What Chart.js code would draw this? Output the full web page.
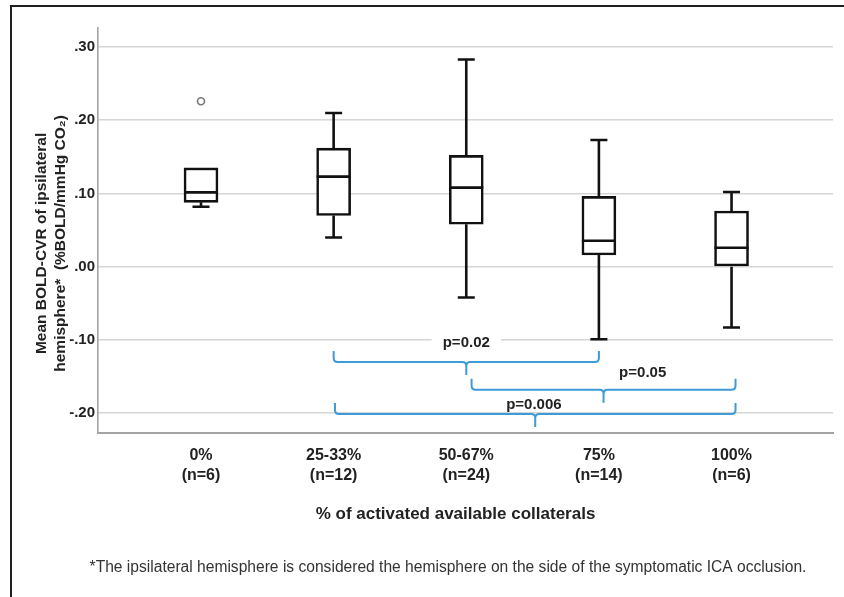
<!DOCTYPE html>
<html><head><meta charset="utf-8">
<script src="https://cdn.jsdelivr.net/npm/chart.js@4.4.1/dist/chart.umd.min.js"></script>
<style>
html,body{margin:0;padding:0;background:#fff;overflow:hidden;}
#wrap{position:relative;width:844px;height:597px;}
#frame{position:absolute;left:10px;top:5px;right:0;bottom:0;border-left:2px solid #231f20;border-top:2px solid #231f20;pointer-events:none;}
canvas{position:absolute;left:0;top:0;}
</style></head>
<body><div id="wrap"><canvas id="c" width="844" height="597"></canvas><div id="frame"></div></div>
<script>
// ---- data ----
const categories = ['0%', '25-33%', '50-67%', '75%', '100%'];
const groupSizes = ['(n=6)', '(n=12)', '(n=24)', '(n=14)', '(n=6)'];
const whiskerLow  = [0.082, 0.040, -0.042, -0.099, -0.083];
const q1          = [0.088, 0.070,  0.058,  0.016,  0.000];
const median      = [0.1015, 0.123, 0.108,  0.0355, 0.026];
const q3          = [0.135, 0.162,  0.152,  0.096,  0.076];
const whiskerHigh = [0.135, 0.210,  0.283,  0.173,  0.102];
const outlierCategory = [0];
const outlierValue    = [0.226];
const yTickValues = [-0.2, -0.1, 0, 0.1, 0.2, 0.3];
const comparisonFrom  = [1, 2.04, 1.01];
const comparisonTo    = [3, 4.03, 4.03];
const comparisonLevel = [-0.130, -0.168, -0.201];
const comparisonText  = ['p=0.02', 'p=0.05', 'p=0.006'];
const comparisonTextX = [2.0, 3.33, 2.51];
const comparisonTextY = [-0.104, -0.1455, -0.1887];
const yTitle = ['Mean BOLD-CVR of ipsilateral', 'hemisphere*  (%BOLD/mmHg CO\u2082)'];
const xTitle = '% of activated available collaterals';
const footnote = '*The ipsilateral hemisphere is considered the hemisphere on the side of the symptomatic ICA occlusion.';

const FONT = "'Liberation Sans', Arial, Helvetica, sans-serif";
const INK = '#222';
const BLUE = '#3f9bd6';

function fmtTick(v) {
  const s = Math.abs(v).toFixed(2).replace(/^0/, '');
  return (v < -1e-9 ? '-' : '') + s;
}

const boxPlugin = {
  id: 'boxWhiskers',
  afterDatasetsDraw(chart) {
    const { ctx, scales: { x, y } } = chart;
    const meta = chart.getDatasetMeta(0);
    ctx.save();
    ctx.strokeStyle = '#111';
    ctx.lineWidth = 2.6;
    categories.forEach((c, i) => {
      const px = x.getPixelForValue(i);
      const w = meta.data[i].width;
      const capHalf = 8.5;
      const yQ1 = y.getPixelForValue(q1[i]);
      const yQ3 = y.getPixelForValue(q3[i]);
      const yLo = y.getPixelForValue(whiskerLow[i]);
      const yHi = y.getPixelForValue(whiskerHigh[i]);
      const yMed = y.getPixelForValue(median[i]);
      ctx.beginPath();
      if (whiskerHigh[i] > q3[i]) {
        ctx.moveTo(px, yQ3); ctx.lineTo(px, yHi);
        ctx.moveTo(px - capHalf, yHi); ctx.lineTo(px + capHalf, yHi);
      }
      ctx.moveTo(px, yQ1); ctx.lineTo(px, yLo);
      ctx.moveTo(px - capHalf, yLo); ctx.lineTo(px + capHalf, yLo);
      ctx.moveTo(px - w / 2, yMed); ctx.lineTo(px + w / 2, yMed);
      ctx.stroke();
    });
    ctx.restore();
  }
};

const bracketPlugin = {
  id: 'brackets',
  afterDatasetsDraw(chart) {
    const { ctx, scales: { x, y } } = chart;
    ctx.save();
    ctx.strokeStyle = BLUE;
    ctx.lineWidth = 2;
    const rise = 11, drop = 13, r = 4;
    comparisonText.forEach((t, i) => {
      const x1 = x.getPixelForValue(comparisonFrom[i]);
      const x2 = x.getPixelForValue(comparisonTo[i]);
      const yh = y.getPixelForValue(comparisonLevel[i]);
      const xm = (x1 + x2) / 2;
      ctx.beginPath();
      ctx.moveTo(x1, yh - rise);
      ctx.lineTo(x1, yh - r);
      ctx.quadraticCurveTo(x1, yh, x1 + r, yh);
      ctx.lineTo(xm - r, yh);
      ctx.quadraticCurveTo(xm, yh, xm, yh + r);
      ctx.lineTo(xm, yh + drop);
      ctx.moveTo(xm, yh + r);
      ctx.quadraticCurveTo(xm, yh, xm + r, yh);
      ctx.lineTo(x2 - r, yh);
      ctx.quadraticCurveTo(x2, yh, x2, yh - r);
      ctx.lineTo(x2, yh - rise);
      ctx.stroke();
    });
    ctx.font = 'bold 15px ' + FONT;
    ctx.textAlign = 'center';
    ctx.textBaseline = 'middle';
    comparisonText.forEach((t, i) => {
      const tx = x.getPixelForValue(comparisonTextX[i]);
      const ty = y.getPixelForValue(comparisonTextY[i]);
      const tw = ctx.measureText(t).width;
      ctx.fillStyle = '#fff';
      ctx.fillRect(tx - tw / 2 - 11, ty - 7, tw + 22, 14);
      ctx.fillStyle = INK;
      ctx.fillText(t, tx, ty);
    });
    ctx.restore();
  }
};

const textPlugin = {
  id: 'extraText',
  afterDraw(chart) {
    const { ctx, chartArea } = chart;
    ctx.save();
    ctx.textAlign = 'center';
    ctx.textBaseline = 'middle';
    ctx.fillStyle = INK;
    ctx.font = 'bold 17px ' + FONT;
    ctx.fillText(xTitle, (chartArea.left + chartArea.right) / 2 - 10, 514);
    ctx.fillStyle = '#333';
    ctx.font = '15.6px ' + FONT;
    ctx.fillText(footnote, 448, 568);
    ctx.restore();
  }
};

new Chart(document.getElementById('c'), {
  type: 'bar',
  data: {
    datasets: [
      {
        type: 'bar',
        data: categories.map((c, i) => ({ x: i, y: [q1[i], q3[i]] })),
        backgroundColor: '#ffffff',
        borderColor: '#111',
        borderWidth: 2.6,
        borderSkipped: false,
        barThickness: 34,
        grouped: false
      },
      {
        type: 'scatter',
        data: outlierCategory.map((c, i) => ({ x: c, y: outlierValue[i] })),
        pointRadius: 3.5,
        pointBorderWidth: 1.6,
        pointBorderColor: '#777',
        pointBackgroundColor: '#fff'
      }
    ]
  },
  options: {
    responsive: false,
    animation: false,
    devicePixelRatio: 1,
    layout: { padding: { left: 12, right: 11, top: 28, bottom: 0 } },
    plugins: { legend: { display: false }, tooltip: { enabled: false } },
    scales: {
      x: {
        type: 'linear',
        offset: false,
        min: -0.7766,
        max: 4.765,
        afterBuildTicks: s => { s.ticks = categories.map((c, i) => ({ value: i })); },
        afterFit: s => { s.height = 164; },
        grid: { display: false, drawTicks: false },
        border: { display: true, color: '#a3a3a3', width: 2 },
        ticks: {
          callback: v => [categories[v], groupSizes[v]],
          font: { family: FONT, size: 16, weight: 'bold', lineHeight: 1.28 },
          color: INK, padding: 12, maxRotation: 0, autoSkip: false
        }
      },
      y: {
        min: -0.227,
        max: 0.326,
        afterBuildTicks: s => { s.ticks = yTickValues.map(v => ({ value: v })); },
        afterFit: s => { s.width = 86; },
        grid: { color: '#d6d6d6', lineWidth: 1.6, drawTicks: false },
        border: { display: true, color: '#a3a3a3', width: 1.6 },
        ticks: {
          callback: v => fmtTick(v),
          font: { family: FONT, size: 15, weight: 'bold' },
          color: INK, padding: 3
        },
        title: {
          display: true,
          text: yTitle.map(s => s + '      '),
          font: { family: FONT, size: 15.5, weight: 'bold', lineHeight: 1.22 },
          color: INK,
          padding: { top: 20, bottom: 0 }
        }
      }
    }
  },
  plugins: [boxPlugin, bracketPlugin, textPlugin]
});
</script>
</body></html>
